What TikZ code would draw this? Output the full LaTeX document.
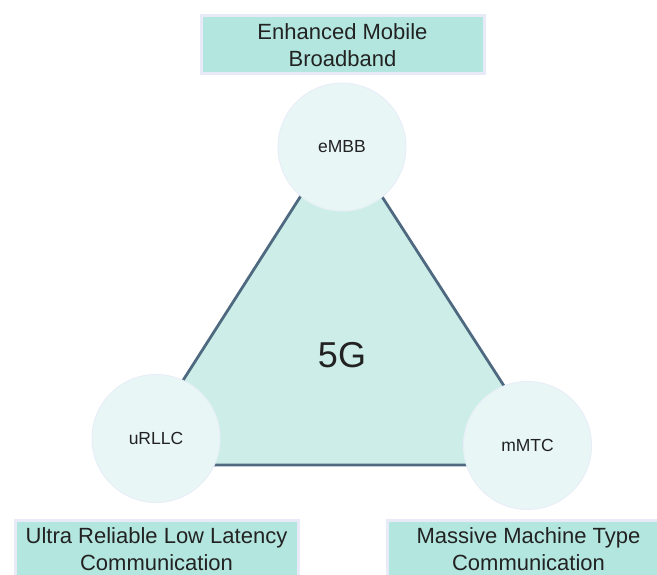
\documentclass[tikz,border=0pt]{standalone}
\usepackage{fontspec}
\setmainfont{Liberation Sans}
\usepackage{tikz}
\usetikzlibrary{positioning}

\definecolor{boxfill}{HTML}{B3E6DF}
\definecolor{boxrim}{HTML}{E8EAF8}
\definecolor{discfill}{HTML}{E9F6F6}
\definecolor{discrim}{HTML}{E8EEF8}
\definecolor{trifill}{HTML}{CDEEE8}
\definecolor{triedge}{HTML}{4F6A80}
\definecolor{ink}{HTML}{222222}

\tikzset{
  usecase/.style={rectangle, fill=boxfill, draw=boxrim, line width=3pt,
    minimum width=283pt, minimum height=58pt, inner sep=0pt, align=center,
    text=ink, font=\fontsize{22}{27}\selectfont},
  service/.style={circle, fill=discfill, draw=discrim, line width=1pt,
    minimum size=128pt, inner sep=0pt, text=ink, font=\fontsize{17.5}{20}\selectfont},
}

\begin{document}
\begin{tikzpicture}[x=1pt, y=-1pt]

  \useasboundingbox (0,0) rectangle (657,575);

  %% triangle behind the services
  \coordinate (apex) at (341,133);
  \coordinate (leftc) at (129,465);
  \coordinate (rightc) at (555,465);
  \draw[fill=trifill, draw=triedge, line width=2.8pt, line join=miter]
    (apex) -- (leftc) -- (rightc) -- cycle;

  \node[text=ink, font=\fontsize{36}{40}\selectfont] (core) at (342,355) {5G};

  %% services
  \node[service] (embb) at (342,147) {eMBB};
  \node[service] (urllc) at (156,438.5) {uRLLC};
  \node[service] (mmtc) at (527.5,445.5) {mMTC};

  %% use cases
  \node[usecase] (embbcase) at (342.5,45) {Enhanced Mobile\\Broadband};
  \node[usecase] (urllccase) at (156.5,549) {Ultra Reliable Low Latency\\Communication};
  \node[usecase] (mmtccase) at (528.5,549) {Massive Machine Type\\Communication};

\end{tikzpicture}
\end{document}
